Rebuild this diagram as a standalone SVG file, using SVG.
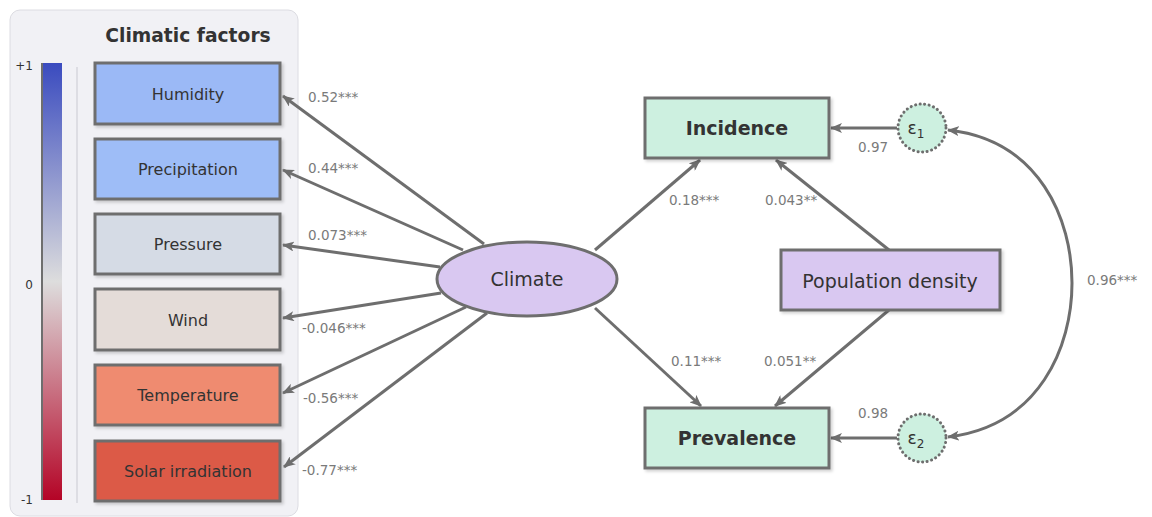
<svg xmlns="http://www.w3.org/2000/svg" width="1152" height="517" viewBox="0 0 1152 517">
<style>
  text { font-family: "DejaVu Sans", Verdana, sans-serif; fill: #333; }
  .box { stroke: #6e6e6e; stroke-width: 3; filter: url(#sh); }
  .lbl { font-size: 16px; text-anchor: middle; }
  .big { font-size: 19px; text-anchor: middle; }
  .bold { font-weight: bold; }
  .coef { font-size: 13.5px; fill: #7a7a7a; }
  .edge { stroke: #6e6e6e; stroke-width: 3; fill: none; marker-end: url(#ah); }
  .err { fill: #cdf0e0; stroke: #6e6e6e; stroke-width: 3; stroke-dasharray: 0.1 4.5; stroke-linecap: round; }
</style>
<defs>
  <linearGradient id="cbar" x1="0" y1="0" x2="0" y2="1">
    <stop offset="0" stop-color="#3a4bbf"/>
    <stop offset="0.5" stop-color="#dddddd"/>
    <stop offset="1" stop-color="#b40426"/>
  </linearGradient>
  <filter id="sh" x="-10%" y="-10%" width="130%" height="140%">
    <feDropShadow dx="2" dy="2" stdDeviation="1.5" flood-color="#000" flood-opacity="0.18"/>
  </filter>
  <marker id="ah" viewBox="0 0 12 10" refX="11" refY="5" markerWidth="12" markerHeight="10" markerUnits="userSpaceOnUse" orient="auto-start-reverse">
    <path d="M0,0 L12,5 L0,10 L3,5 z" fill="#6e6e6e"/>
  </marker>
</defs>

<g id="panel">
  <rect x="10" y="10" width="288" height="506" rx="10" fill="#f1f1f5" stroke="#dcdce2" stroke-width="1"/>
  <text x="188" y="42" font-size="18.7" text-anchor="middle" class="bold">Climatic factors</text>
  <rect x="41" y="63" width="21" height="437" fill="url(#cbar)"/>
  <line x1="42" y1="63" x2="42" y2="500" stroke="#6e6e6e" stroke-width="2"/>
  <line x1="77" y1="67" x2="77" y2="503" stroke="#d6d6dc" stroke-width="1.5"/>
  <text x="33" y="70" font-size="12" text-anchor="end" fill="#555">+1</text>
  <text x="33" y="289" font-size="12" text-anchor="end" fill="#555">0</text>
  <text x="33" y="504" font-size="12" text-anchor="end" fill="#555">-1</text>
</g>

<g id="humidity"><rect class="box" x="95" y="63" width="185" height="61" fill="#9bb9f6"/><text class="lbl" x="188" y="100">Humidity</text></g>
<g id="precipitation"><rect class="box" x="95" y="139" width="185" height="60" fill="#9ebdf7"/><text class="lbl" x="188" y="175">Precipitation</text></g>
<g id="pressure"><rect class="box" x="95" y="214" width="185" height="60" fill="#d5dbe5"/><text class="lbl" x="188" y="250">Pressure</text></g>
<g id="wind"><rect class="box" x="95" y="289" width="185" height="61" fill="#e4dcd8"/><text class="lbl" x="188" y="326">Wind</text></g>
<g id="temperature"><rect class="box" x="95" y="365" width="185" height="60" fill="#ef8b6f"/><text class="lbl" x="188" y="401">Temperature</text></g>
<g id="solar"><rect class="box" x="95" y="441" width="185" height="60" fill="#dc5a47"/><text class="lbl" x="188" y="477">Solar irradiation</text></g>

<g id="connectors">
  <line class="edge" x1="484" y1="244" x2="283" y2="96"/>
  <line class="edge" x1="463" y1="250" x2="283" y2="170"/>
  <line class="edge" x1="440" y1="267" x2="283" y2="245"/>
  <line class="edge" x1="441" y1="293" x2="283" y2="318"/>
  <line class="edge" x1="466" y1="307" x2="283" y2="393"/>
  <line class="edge" x1="487" y1="313" x2="284" y2="467"/>
  <line class="edge" x1="595" y1="250" x2="700" y2="160"/>
  <line class="edge" x1="595" y1="308" x2="701" y2="406"/>
  <line class="edge" x1="889" y1="250" x2="776" y2="160"/>
  <line class="edge" x1="889" y1="310" x2="775" y2="406"/>
  <line class="edge" x1="897" y1="128" x2="831" y2="128"/>
  <line class="edge" x1="897" y1="438" x2="831" y2="438"/>
  <path class="edge" style="marker-start:url(#ah)" d="M948,130 C1040,140 1072,220 1072,283 C1072,346 1040,426 948,437"/>
  <text class="coef" x="308" y="102">0.52***</text>
  <text class="coef" x="308" y="173">0.44***</text>
  <text class="coef" x="308" y="240">0.073***</text>
  <text class="coef" x="302" y="333">-0.046***</text>
  <text class="coef" x="303" y="403">-0.56***</text>
  <text class="coef" x="302" y="475">-0.77***</text>
  <text class="coef" x="669" y="205">0.18***</text>
  <text class="coef" x="765" y="205">0.043**</text>
  <text class="coef" x="671" y="366">0.11***</text>
  <text class="coef" x="764" y="366">0.051**</text>
  <text class="coef" x="858" y="152">0.97</text>
  <text class="coef" x="858" y="418">0.98</text>
  <text class="coef" x="1087" y="285">0.96***</text>
</g>

<g id="climate"><ellipse cx="527" cy="279" rx="90" ry="37" fill="#d9c8f1" stroke="#6e6e6e" stroke-width="3"/><text class="big" x="527" y="286">Climate</text></g>
<g id="incidence"><rect class="box" x="645" y="98" width="184" height="60" fill="#cdf0e0"/><text class="big bold" x="737" y="135">Incidence</text></g>
<g id="prevalence"><rect class="box" x="645" y="408" width="184" height="60" fill="#cdf0e0"/><text class="big bold" x="737" y="445">Prevalence</text></g>
<g id="popdensity"><rect class="box" x="781" y="250" width="219" height="60" fill="#d9c8f1"/><text class="big" x="890" y="288">Population density</text></g>
<g id="e1"><circle class="err" cx="922" cy="128" r="24"/><text x="916" y="134" font-size="17" text-anchor="middle">ε<tspan font-size="12" dy="4">1</tspan></text></g>
<g id="e2"><circle class="err" cx="922" cy="438" r="24"/><text x="916" y="444" font-size="17" text-anchor="middle">ε<tspan font-size="12" dy="4">2</tspan></text></g>
</svg>
